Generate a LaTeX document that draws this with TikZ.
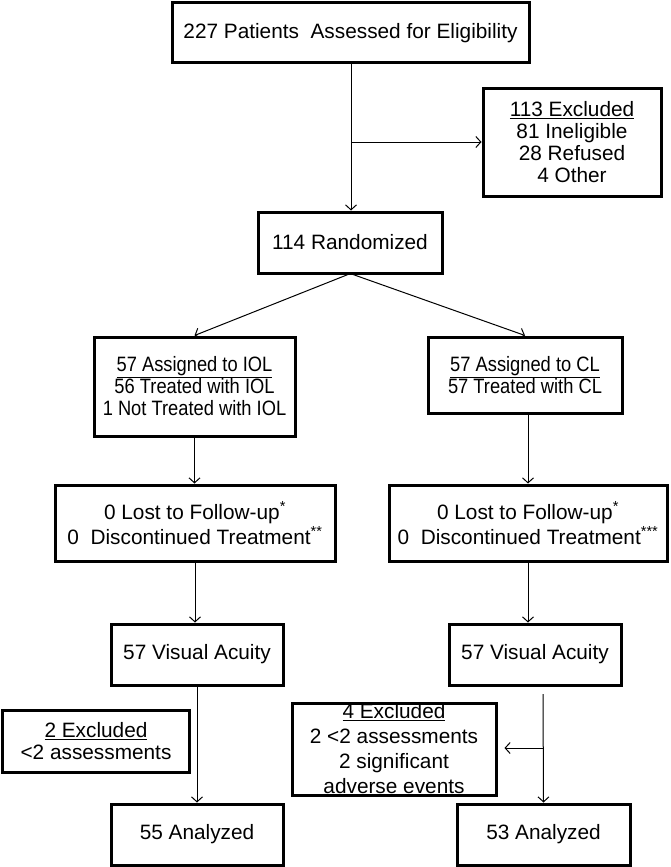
\documentclass[tikz,border=0pt]{standalone}
\usepackage{fontspec}
\setmainfont{Liberation Sans}
\newfontfamily\narrowfont[FakeStretch=0.88]{Liberation Sans}
\usetikzlibrary{arrows.meta}

\begin{document}
\begin{tikzpicture}
  [x=1pt,y=-1pt,
   every node/.style={draw,line width=3pt,align=center,inner sep=0pt,
     font=\fontsize{20.8}{22}\selectfont},
   wide/.style={font=\fontsize{20.8}{25}\selectfont},
   line/.style={line width=1pt,-{Straight Barb[length=5pt,width=11pt]}}]
  \useasboundingbox (0,0) rectangle (671,867);

  \node (elig)[minimum width=357pt,minimum height=60pt] at (350.5,33) {227 Patients\ \ Assessed for Eligibility};
  \node (excl)[minimum width=178pt,minimum height=108pt] at (572,142)
    {\underline{113 Excluded}\\81 Ineligible\\28 Refused\\4 Other};
  \node (rand)[minimum width=184pt,minimum height=61pt] at (350,242.5) {114 Randomized};

  \node (iol)[minimum width=201pt,minimum height=99pt,font=\narrowfont\fontsize{20.8}{22}\selectfont] at (194.5,386.5)
    {\underline{57 Assigned to IOL}\\56 Treated with IOL\\1 Not Treated with IOL};
  \node (cl)[minimum width=194pt,minimum height=76pt,font=\narrowfont\fontsize{20.8}{22}\selectfont] at (525,375)
    {\underline{57 Assigned to CL}\\57 Treated with CL};

  \node (lostl)[wide,minimum width=280pt,minimum height=76pt] at (195,523)
    {0 Lost to Follow-up\textsuperscript{*}\\0\ \ Discontinued Treatment\textsuperscript{**}};
  \node (lostr)[wide,minimum width=278pt,minimum height=76pt] at (528,523)
    {0 Lost to Follow-up\textsuperscript{*}\\0\ \ Discontinued Treatment\textsuperscript{***}};

  \node (val)[minimum width=172pt,minimum height=61pt] at (197,654.5) {57 Visual Acuity};
  \node (var)[minimum width=172pt,minimum height=61pt] at (535,654.5) {57 Visual Acuity};

  \node (exl)[minimum width=187pt,minimum height=62pt] at (96,741)
    {\underline{2 Excluded}\\{<}2 assessments};
  \node (exr)[wide,minimum width=204pt,minimum height=92pt] at (394,749)
    {\underline{4 Excluded}\\2 {<}2 assessments\\2 significant\\adverse events};

  \node (anl)[minimum width=172pt,minimum height=61pt] at (197,834.5) {55 Analyzed};
  \node (anr)[minimum width=173pt,minimum height=61pt] at (543.5,834.5) {53 Analyzed};

  \coordinate (split) at (351,142);
  \coordinate (vtop) at (543,694);
  \coordinate (vsplit) at (543,748);

  \draw[line] (elig.south -| split) -- (rand.north -| split);
  \draw[line] (split) -- (excl);
  \draw[line] ([xshift=-2pt]rand.south) -- (iol.north);
  \draw[line] ([xshift=3pt]rand.south) -- (cl.north);
  \draw[line] (iol.south) -- (iol.south |- lostl.north);
  \draw[line] (lostr.north |- cl.south) -- (lostr.north);
  \draw[line] (lostl.south) -- (lostl.south |- val.north);
  \draw[line] (lostr.south) -- (lostr.south |- var.north);
  \draw[line] (val.south) -- (anl.north);
  \draw[line] (vtop) -- (anr.north);
  \draw[line,shorten >=7pt] (vsplit) -- (vsplit -| exr.east);
\end{tikzpicture}
\end{document}
